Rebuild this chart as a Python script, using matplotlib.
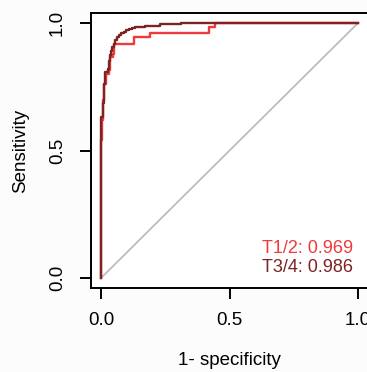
import matplotlib
matplotlib.use("Agg")
import matplotlib.pyplot as plt

# ROC data (fpr = 1 - specificity, tpr = sensitivity), step corners
t12_fpr = [0, 0, 0.004, 0.008, 0.012, 0.02, 0.03, 0.035, 0.045, 0.05, 0.126, 0.189, 0.42, 0.443, 1.0]
t12_tpr = [0, 0.54, 0.62, 0.70, 0.76, 0.80, 0.815, 0.868, 0.88, 0.92, 0.944, 0.962, 0.986, 1.0, 1.0]

t34_fpr = [0, 0, 0.005, 0.009, 0.013, 0.016, 0.025, 0.03, 0.035, 0.038, 0.042, 0.048, 0.055,
           0.062, 0.068, 0.078, 0.087, 0.097, 0.107, 0.12, 0.133, 0.172, 0.23, 0.309, 1.0]
t34_tpr = [0, 0.63, 0.685, 0.76, 0.80, 0.81, 0.822, 0.85, 0.875, 0.89, 0.907, 0.92, 0.933,
           0.945, 0.953, 0.96, 0.966, 0.972, 0.976, 0.982, 0.986, 0.99, 0.995, 1.0, 1.0]

labels = ["T1/2: 0.969", "T3/4: 0.986"]
colors = ["#ee3a3a", "#7e2222"]
ticks = [0.0, 0.5, 1.0]
tick_labels = ["0.0", "0.5", "1.0"]

plt.rcParams['font.family'] = ['Liberation Sans', 'DejaVu Sans']

fig = plt.figure(figsize=(3.67, 3.72), dpi=100, facecolor="#fcfcfc")
ax = fig.add_axes([91/367, 1 - 288/372, 1 - 91/367 + 0.003, (288 - 13)/372])
ax.set_facecolor("white")

ax.plot([0, 1], [0, 1], color="#b8b8b8", lw=1.2)
ax.plot(t12_fpr, t12_tpr, drawstyle="steps-post", color=colors[0], lw=1.7)
ax.plot(t34_fpr, t34_tpr, drawstyle="steps-post", color=colors[1], lw=1.7)

ax.set_xlim(-0.04, 1.04)
ax.set_ylim(-0.04, 1.04)

for s in ax.spines.values():
    s.set_linewidth(1.4)
    s.set_color("black")

ax.set_xticks(ticks)
ax.set_xticklabels(tick_labels)
ax.set_yticks(ticks)
ax.set_yticklabels(tick_labels, rotation=90, va="center")
ax.tick_params(axis="both", direction="out", length=8, width=1.4, labelsize=13.5,
               colors="black")
ax.tick_params(axis="x", pad=9)
ax.tick_params(axis="y", pad=10)

ax.set_xlabel("1- specificity", fontsize=13.5, labelpad=17)
ax.set_ylabel("Sensitivity", fontsize=13.5, labelpad=14)

ax.text(0.98, 0.115, labels[0], color=colors[0], fontsize=13, ha="right", va="center")
ax.text(0.98, 0.04, labels[1], color=colors[1], fontsize=13, ha="right", va="center")

fig.savefig("out.png", dpi=100, facecolor=fig.get_facecolor())
